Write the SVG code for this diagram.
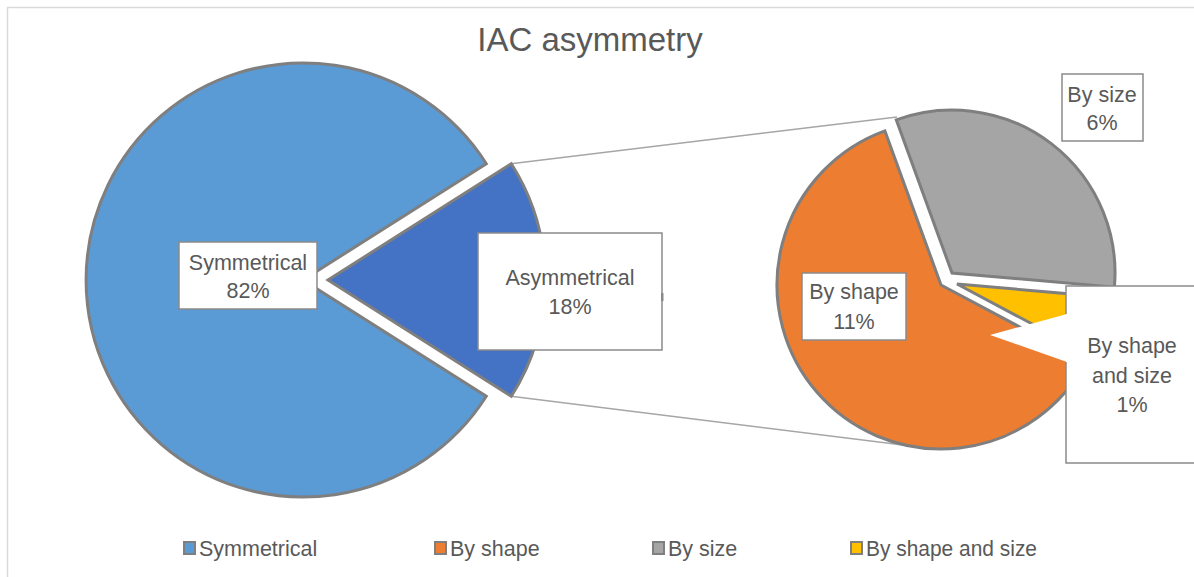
<svg xmlns="http://www.w3.org/2000/svg" width="1194" height="577" viewBox="0 0 1194 577">
<style>
text{font-family:"Liberation Sans",Arial,sans-serif;fill:#595959}
.lbl{font-size:21.5px;text-anchor:middle}
.leg{font-size:21.5px}
.box{fill:#fff;stroke:#8a8a8a;stroke-width:1.5}
.sl{stroke:#7f7f7f;stroke-width:3;stroke-linejoin:miter}
.conn{stroke:#a6a6a6;stroke-width:1.5;fill:none}
.sw{stroke:#7f7f7f;stroke-width:2}
</style>
<rect width="1194" height="577" fill="#fff"/>
<path d="M7.5,577 V7.5 H1194" fill="none" stroke="#d9d9d9" stroke-width="1.5"/>
<text x="590" y="51" font-size="33" text-anchor="middle">IAC asymmetry</text>
<g id="connectors">
<line class="conn" x1="511" y1="163.7" x2="897" y2="117"/>
<line class="conn" x1="511" y1="396.3" x2="935" y2="449"/>
</g>
<g id="symmetrical">
<path class="sl" fill="#5B9BD5" d="M303,280 L486.3,163.7 A217,217 0 1,0 486.3,396.3 Z"/>
<rect class="box" x="179" y="242" width="138" height="67"/>
<text class="lbl" x="248" y="270">Symmetrical</text>
<text class="lbl" x="248" y="298">82%</text>
</g>
<g id="asymmetrical">
<path class="sl" fill="#4472C4" d="M328,280 L511.3,163.7 A217,217 0 0,1 511.3,396.3 Z"/>
<rect class="box" x="478" y="233" width="184" height="117"/>
<rect x="661" y="293" width="2.5" height="8" fill="#8a8a8a"/>
<text class="lbl" x="570" y="285">Asymmetrical</text>
<text class="lbl" x="570" y="314">18%</text>
</g>
<g id="by-shape">
<path class="sl" fill="#ED7D31" d="M941,285 L884.9,130.9 A164,164 0 1,0 1085.8,362 Z"/>
<rect class="box" x="802" y="273" width="104" height="67"/>
<text class="lbl" x="854" y="299">By shape</text>
<text class="lbl" x="854" y="329">11%</text>
</g>
<g id="by-size">
<path class="sl" fill="#A5A5A5" d="M952,273 L896.3,119.8 A163,163 0 0,1 1114.4,287.2 Z"/>
<rect class="box" x="1062" y="74" width="81" height="67"/>
<text class="lbl" x="1102" y="102">By size</text>
<text class="lbl" x="1102" y="130">6%</text>
</g>
<g id="by-shape-and-size">
<path class="sl" fill="#FFC000" d="M957,284 L1119.4,298.2 A163,163 0 0,1 1100.9,360.5 Z"/>
<rect x="1066" y="286" width="140" height="177" fill="#fff"/>
<polygon points="1067,314 990,335 1067,362" fill="#fff"/>
<path d="M1066,314 V286 H1200 M1200,463 H1066 V362" fill="none" stroke="#8a8a8a" stroke-width="1.5"/>
<text class="lbl" x="1132" y="353">By shape</text>
<text class="lbl" x="1132" y="383">and size</text>
<text class="lbl" x="1132" y="412">1%</text>
</g>
<g id="legend">
<rect class="sw" x="184" y="542" width="11" height="12" fill="#5B9BD5"/>
<text class="leg" x="199" y="556">Symmetrical</text>
<rect class="sw" x="435" y="542" width="11" height="12" fill="#ED7D31"/>
<text class="leg" x="450" y="556">By shape</text>
<rect class="sw" x="653" y="542" width="11" height="12" fill="#A5A5A5"/>
<text class="leg" x="668" y="556">By size</text>
<rect class="sw" x="851" y="542" width="11" height="12" fill="#FFC000"/>
<text class="leg" x="866" y="556" textLength="171" lengthAdjust="spacingAndGlyphs">By shape and size</text>
</g>
</svg>
